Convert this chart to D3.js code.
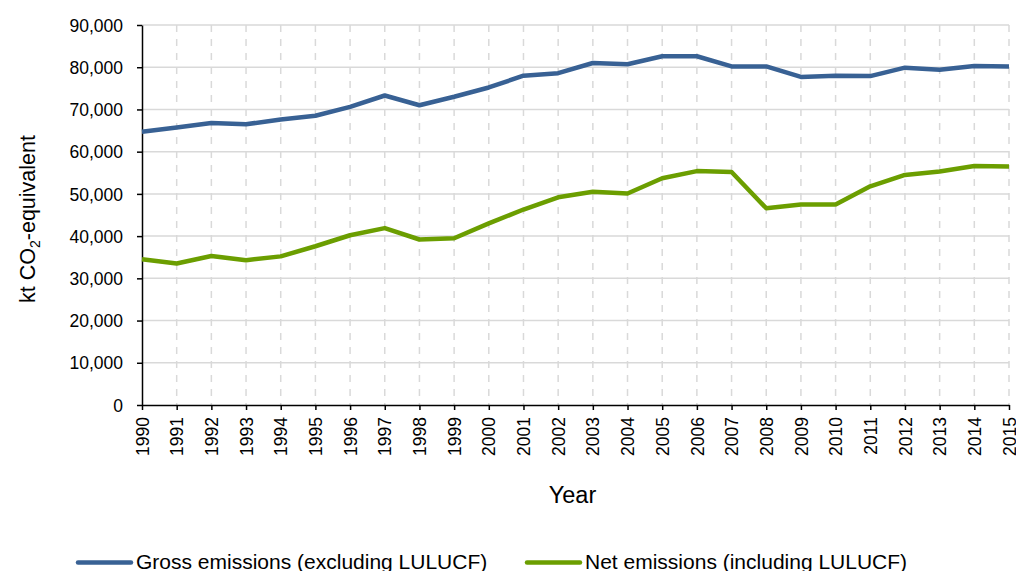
<!DOCTYPE html>
<html>
<head>
<meta charset="utf-8">
<script src="https://cdn.jsdelivr.net/npm/d3@7"></script>
<style>
html,body{margin:0;padding:0;background:#fff;}
text{font-family:"Liberation Sans",Arial,sans-serif;fill:#000;}
</style>
</head>
<body>
<svg id="chart" width="1016" height="571"></svg>
<script>
const years = d3.range(1990, 2016);
const grossEmissions = [64700, 65700, 66800, 66500, 67600, 68500, 70600, 73300, 71000, 73000, 75200, 78000, 78600, 81000, 80700, 82600, 82600, 80200, 80200, 77700, 78000, 77900, 79900, 79400, 80300, 80200];
const netEmissions = [34500, 33500, 35300, 34300, 35200, 37600, 40200, 41900, 39200, 39500, 43000, 46300, 49200, 50500, 50100, 53700, 55400, 55200, 46600, 47500, 47500, 51800, 54500, 55300, 56600, 56500];
const yTicks = [0, 10000, 20000, 30000, 40000, 50000, 60000, 70000, 80000, 90000];
const seriesNames = ["Gross emissions (excluding LULUCF)", "Net emissions (including LULUCF)"];
const seriesColors = ["#386194", "#6b9e00"];

(function () {
const svg = d3.select("#chart");
const pLeft = 142, pRight = 1009, pTop = 25, pBottom = 405;
const x = d3.scaleLinear().domain([1990, 2015]).range([pLeft, pRight]);
const y = d3.scaleLinear().domain([0, 90000]).range([pBottom, pTop]);

// horizontal grid
svg.append("g").selectAll("line").data(yTicks.slice(1)).join("line")
  .attr("x1", pLeft).attr("x2", pRight)
  .attr("y1", d => y(d)).attr("y2", d => y(d))
  .attr("stroke", "#d9d9d9").attr("stroke-width", 1.5);
// vertical dashed grid
svg.append("g").selectAll("line").data(years.slice(1)).join("line")
  .attr("x1", d => x(d)).attr("x2", d => x(d))
  .attr("y1", pTop).attr("y2", pBottom)
  .attr("stroke", "#d9d9d9").attr("stroke-width", 1.5)
  .attr("stroke-dasharray", "7,7");

// y axis
const yAxis = svg.append("g").attr("transform", `translate(${pLeft},0)`)
  .call(d3.axisLeft(y).tickValues(yTicks).tickSize(5).tickSizeOuter(0).tickFormat(d3.format(",")));
yAxis.select(".domain").attr("stroke", "#000").attr("stroke-width", 1.5);
yAxis.selectAll(".tick line").attr("stroke", "#000").attr("stroke-width", 1.5);
yAxis.selectAll(".tick text").attr("font-size", 17.5).attr("x", -19).attr("dy", "0.35em")
  .style("font-family", "Liberation Sans, Arial, sans-serif").attr("fill", "#000");

// x axis
const xAxis = svg.append("g").attr("transform", `translate(0,${pBottom})`)
  .call(d3.axisBottom(x).tickValues(years).tickSize(5).tickSizeOuter(0).tickFormat(d3.format("d")));
xAxis.select(".domain").attr("stroke", "#000").attr("stroke-width", 1.5);
xAxis.selectAll(".tick line").attr("stroke", "#000").attr("stroke-width", 1.5);
xAxis.selectAll(".tick text").attr("font-size", 17.5)
  .style("font-family", "Liberation Sans, Arial, sans-serif").attr("fill", "#000")
  .attr("transform", "rotate(-90)").attr("text-anchor", "end")
  .attr("x", -12).attr("y", 0).attr("dy", "0.35em");

// lines
const line = d3.line().x((d, i) => x(years[i])).y(d => y(d));
[grossEmissions, netEmissions].forEach((s, k) => {
  svg.append("path").datum(s).attr("d", line)
    .attr("fill", "none").attr("stroke", seriesColors[k]).attr("stroke-width", 4.5)
    .attr("stroke-linejoin", "round");
});

// axis titles
const yt = svg.append("text").attr("transform", "translate(35,219) rotate(-90)")
  .attr("text-anchor", "middle").attr("font-size", 21.5);
yt.append("tspan").text("kt CO");
yt.append("tspan").text("2").attr("font-size", 14).attr("dy", 5);
yt.append("tspan").text("-equivalent").attr("dy", -5);

svg.append("text").attr("x", 572.5).attr("y", 503).attr("text-anchor", "middle")
  .attr("font-size", 23.5).text("Year");

// legend
const legendX = [78, 527];
seriesNames.forEach((n, k) => {
  svg.append("line").attr("x1", legendX[k]).attr("x2", legendX[k] + 53)
    .attr("y1", 562.5).attr("y2", 562.5)
    .attr("stroke", seriesColors[k]).attr("stroke-width", 4.5).attr("stroke-linecap", "round");
  svg.append("text").attr("x", legendX[k] + 58).attr("y", 569)
    .attr("font-size", 21).text(n);
});
})();
</script>
</body>
</html>
